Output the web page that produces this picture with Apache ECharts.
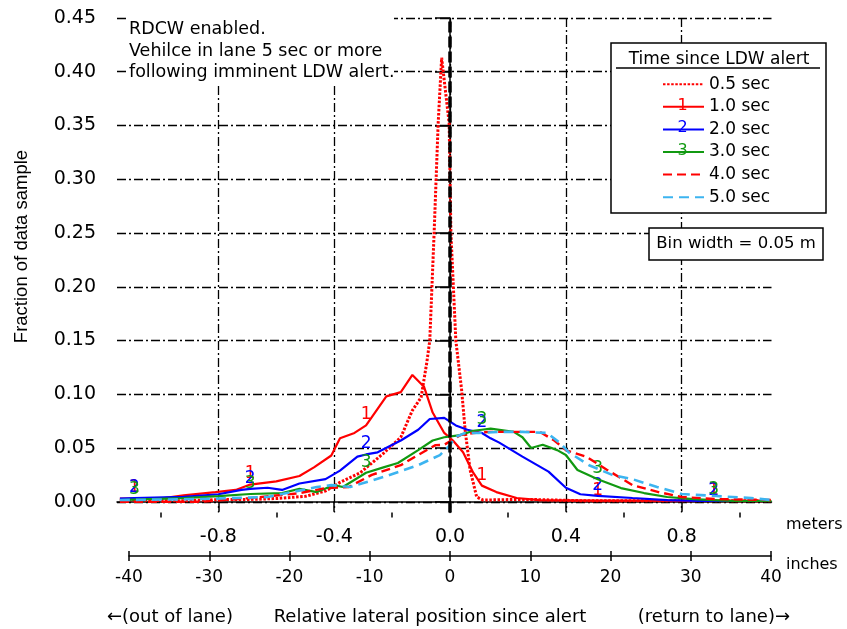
<!DOCTYPE html>
<html><head><meta charset="utf-8">
<script src="https://cdn.jsdelivr.net/npm/echarts@6/dist/echarts.min.js"></script>
<style>html,body{margin:0;padding:0;background:#fff}#c{width:847px;height:629px}</style>
</head><body><div id="c"></div>
<script>
// ---- data (x: relative lateral position in meters, y: fraction of data sample) ----
const seriesNames = ['0.5 sec', '1.0 sec', '2.0 sec', '3.0 sec', '4.0 sec', '5.0 sec'];
const markerText = ['', '1', '2', '3', '', ''];
const markerX = [-1.09, -0.69, -0.29, 0.11, 0.51, 0.91];

const s05 = [[-1.14,0.002],[-1.0,0.001],[-0.9,0.001],[-0.8,0.002],[-0.7,0.002],[-0.6,0.003],[-0.5,0.005],[-0.43,0.010],[-0.38,0.018],[-0.31,0.027],[-0.23,0.045],[-0.17,0.060],[-0.13,0.085],[-0.10,0.097],[-0.08,0.130],[-0.07,0.150],[-0.055,0.250],[-0.041,0.352],[-0.029,0.413],[-0.003,0.352],[0.003,0.250],[0.02,0.150],[0.04,0.104],[0.052,0.067],[0.069,0.030],[0.092,0.0044],[0.114,0.0016],[0.2,0.002],[0.3,0.002],[0.45,0.001],[0.6,0.001],[0.8,0.001],[1.0,0.001],[1.11,0.001]];
const s10 = [[-1.14,0.003],[-1.09,0.003],[-1.0,0.003],[-0.92,0.006],[-0.81,0.009],[-0.74,0.011],[-0.69,0.016],[-0.6,0.019],[-0.52,0.024],[-0.47,0.032],[-0.41,0.043],[-0.38,0.059],[-0.33,0.064],[-0.29,0.071],[-0.22,0.098],[-0.17,0.102],[-0.13,0.118],[-0.09,0.107],[-0.06,0.083],[-0.02,0.064],[0.01,0.057],[0.045,0.046],[0.08,0.027],[0.11,0.015],[0.16,0.009],[0.23,0.0035],[0.31,0.0016],[0.51,0.001],[0.7,0.001],[0.91,0.001],[1.1,0.001]];
const s20 = [[-1.14,0.003],[-1.09,0.0035],[-0.92,0.0045],[-0.8,0.007],[-0.72,0.011],[-0.69,0.012],[-0.63,0.013],[-0.58,0.011],[-0.52,0.017],[-0.43,0.021],[-0.38,0.029],[-0.32,0.042],[-0.29,0.044],[-0.25,0.046],[-0.17,0.057],[-0.11,0.067],[-0.07,0.077],[-0.02,0.078],[0.02,0.071],[0.06,0.067],[0.11,0.064],[0.14,0.059],[0.17,0.055],[0.25,0.042],[0.34,0.028],[0.40,0.013],[0.45,0.007],[0.51,0.0055],[0.63,0.0035],[0.75,0.0016],[0.86,0.0008],[0.91,0.0007],[1.1,0.0007]];
const s30 = [[-1.14,0.0015],[-1.09,0.002],[-0.92,0.0034],[-0.8,0.0053],[-0.69,0.0072],[-0.58,0.0081],[-0.52,0.012],[-0.46,0.009],[-0.4,0.0155],[-0.37,0.0137],[-0.29,0.027],[-0.23,0.032],[-0.18,0.036],[-0.11,0.048],[-0.06,0.057],[-0.02,0.060],[0.035,0.062],[0.08,0.066],[0.11,0.067],[0.14,0.068],[0.22,0.065],[0.25,0.060],[0.28,0.050],[0.32,0.053],[0.37,0.048],[0.40,0.0435],[0.44,0.0295],[0.51,0.021],[0.59,0.0127],[0.67,0.0081],[0.75,0.0044],[0.84,0.0025],[0.91,0.0015],[0.98,0.0007],[1.11,0.0007]];
const s40 = [[-1.14,0.0],[-0.86,0.0],[-0.69,0.0034],[-0.52,0.008],[-0.43,0.0127],[-0.35,0.0137],[-0.27,0.025],[-0.17,0.034],[-0.12,0.042],[-0.05,0.0527],[-0.02,0.053],[0.035,0.062],[0.08,0.064],[0.14,0.065],[0.23,0.065],[0.31,0.065],[0.36,0.057],[0.40,0.048],[0.47,0.042],[0.54,0.030],[0.59,0.022],[0.63,0.0155],[0.72,0.009],[0.80,0.0044],[0.92,0.0025],[1.11,0.0016]];
const s50 = [[-1.14,0.0016],[-0.86,0.0025],[-0.63,0.0044],[-0.46,0.0137],[-0.41,0.0155],[-0.345,0.0137],[-0.23,0.023],[-0.11,0.034],[-0.035,0.0434],[0.0,0.0527],[0.017,0.060],[0.052,0.064],[0.10,0.064],[0.17,0.065],[0.25,0.065],[0.335,0.064],[0.38,0.0546],[0.41,0.046],[0.48,0.034],[0.56,0.025],[0.63,0.021],[0.715,0.0137],[0.80,0.0072],[0.92,0.0053],[1.04,0.0034],[1.11,0.0016]];
const allSeries = [s05, s10, s20, s30, s40, s50];

const yTicks = [0, 0.05, 0.10, 0.15, 0.20, 0.25, 0.30, 0.35, 0.40, 0.45];
const meterTicks = [-0.8, -0.4, 0, 0.4, 0.8];
const meterMinorTicks = [-1.0, -0.6, -0.2, 0.2, 0.6, 1.0];
const inchMin = -40, inchMax = 40, inchStep = 10;
const xMin = -1.15, xMax = 1.11, yMin = -0.01, yMax = 0.45;

// ---- styles ----
const FONT = 'DejaVu Sans';
const colors = ['#ff0000', '#ff0000', '#0000ff', '#119911', '#ff0000', '#3cb4f0'];
const lineTypes = [[2.5, 1.6], 'solid', 'solid', 'solid', [9, 5], [10, 6]];
const lineWidths = [3, 2.2, 2.2, 2.2, 2.4, 2.6];
const gridDash = [9, 3, 2, 3];

const legendLeft = 662, legendTop = 75.7, legendItemH = 14, legendGap = 5.6, legendStep = 22.8, legendItemW = 41;

function buildData(arr, mark) {
  return arr.map(p => {
    if (mark && markerX.some(m => Math.abs(m - p[0]) < 1e-9)) {
      return { value: p, label: { show: true, formatter: mark } };
    }
    return { value: p };
  });
}

const series = allSeries.map((arr, i) => ({
  name: seriesNames[i],
  type: 'line',
  xAxisIndex: 0, yAxisIndex: 0,
  data: buildData(arr, markerText[i]),
  symbol: 'circle', symbolSize: 0.01, showSymbol: true,
  itemStyle: { color: colors[i] },
  lineStyle: { color: colors[i], width: lineWidths[i], type: lineTypes[i] },
  label: { show: false, position: 'top', distance: 2, color: colors[i], fontSize: 17, fontFamily: FONT },
  emphasis: { disabled: true },
  silent: true,
  z: 2 + i * 0.01
}));

// zero line (thick black dashed)
series.push({
  type: 'line', xAxisIndex: 0, yAxisIndex: 0, data: [], silent: true, z: 5,
  markLine: {
    silent: true, symbol: ['none', 'none'], animation: false,
    label: { show: false },
    lineStyle: { color: '#000', width: 3.5, type: [11, 4] },
    data: [{ xAxis: 0 }]
  }
});

const legendNumGraphics = [1, 2, 3].map(i => ({
  type: 'text', z: 50,
  x: legendLeft + legendItemW / 2, y: legendTop + i * legendStep + legendItemH / 2,
  style: { text: markerText[i], fill: colors[i], fontFamily: FONT, fontSize: 16, align: 'center', verticalAlign: 'middle' }
}));

const option = {
  animation: false,
  backgroundColor: '#fff',
  grid: [
    { left: 117, right: 75.5, top: 18, height: 494.5 },
    { left: 129, right: 76, top: 551, height: 5 }
  ],
  xAxis: [
    {
      gridIndex: 0, type: 'value', min: xMin, max: xMax, position: 'bottom',
      axisLine: { show: true, lineStyle: { color: '#000', width: 1.5 } },
      axisTick: { show: true, customValues: meterTicks, length: 10, lineStyle: { color: '#000', width: 1.5 } },
      axisLabel: { customValues: meterTicks, formatter: v => v.toFixed(1), margin: 15, color: '#000', fontSize: 19, fontFamily: FONT },
      splitLine: { show: true, lineStyle: { color: '#000', width: 1.3, type: gridDash } }
    },
    {
      gridIndex: 0, type: 'value', min: xMin, max: xMax, position: 'bottom',
      axisLine: { show: false },
      axisTick: { show: true, customValues: meterMinorTicks, length: 5, lineStyle: { color: '#000', width: 1.5 } },
      axisLabel: { show: false },
      splitLine: { show: false }
    },
    {
      gridIndex: 1, type: 'value', min: inchMin, max: inchMax, interval: inchStep, position: 'bottom',
      axisLine: { show: true, lineStyle: { color: '#000', width: 1.5 } },
      axisTick: { show: true, length: 5, lineStyle: { color: '#000', width: 1.5 } },
      axisLabel: { margin: 13, color: '#000', fontSize: 17, fontFamily: FONT },
      splitLine: { show: true, lineStyle: { color: '#000', width: 1.5, type: 'solid' } }
    }
  ],
  yAxis: [
    {
      gridIndex: 0, type: 'value', min: yMin, max: yMax,
      axisLine: { show: true, lineStyle: { color: '#000', width: 1.5 } },
      axisTick: { show: true, customValues: yTicks, length: 15, lineStyle: { color: '#000', width: 1.5 } },
      axisLabel: { customValues: yTicks, formatter: v => v.toFixed(2), margin: 21, color: '#000', fontSize: 19, fontFamily: FONT },
      splitLine: { show: true, lineStyle: { color: '#000', width: 1.3, type: gridDash } }
    },
    { gridIndex: 1, type: 'value', min: 0, max: 1, show: false }
  ],
  legend: {
    data: seriesNames, orient: 'vertical', left: legendLeft, top: legendTop, padding: 0,
    itemWidth: legendItemW, itemHeight: legendItemH, itemGap: legendGap,
    textStyle: { fontFamily: FONT, fontSize: 17, color: '#000', lineHeight: 14 },
    itemStyle: { opacity: 0 },
    selectedMode: false, z: 30
  },
  graphic: [
    // annotation box
    { type: 'rect', z: 10, shape: { x: 127, y: 15, width: 267, height: 69 }, style: { fill: '#fff' } },
    { type: 'text', z: 11, x: 129, y: 29.5, style: { text: 'RDCW enabled.', fill: '#000', fontFamily: FONT, fontSize: 17.5, verticalAlign: 'middle' } },
    { type: 'text', z: 11, x: 129, y: 51, style: { text: 'Vehilce in lane 5 sec or more', fill: '#000', fontFamily: FONT, fontSize: 17.5, verticalAlign: 'middle' } },
    { type: 'text', z: 11, x: 129, y: 72, style: { text: 'following imminent LDW alert.', fill: '#000', fontFamily: FONT, fontSize: 17.5, verticalAlign: 'middle' } },
    // legend frame
    { type: 'rect', z: 10, shape: { x: 611, y: 43, width: 215, height: 170 }, style: { fill: '#fff', stroke: '#000', lineWidth: 1.5 } },
    { type: 'text', z: 11, x: 719, y: 60, style: { text: 'Time since LDW alert', fill: '#000', fontFamily: FONT, fontSize: 17, align: 'center', verticalAlign: 'middle' } },
    { type: 'line', z: 11, shape: { x1: 616, y1: 68, x2: 820, y2: 68 }, style: { stroke: '#000', lineWidth: 1.5 } },
    // bin width box
    { type: 'rect', z: 10, shape: { x: 649, y: 228, width: 174, height: 32 }, style: { fill: '#fff', stroke: '#000', lineWidth: 1.5 } },
    { type: 'text', z: 11, x: 736, y: 244, style: { text: 'Bin width = 0.05 m', fill: '#000', fontFamily: FONT, fontSize: 16.5, align: 'center', verticalAlign: 'middle' } },
    // axis titles
    { type: 'text', z: 11, x: 22, y: 246.5, rotation: Math.PI / 2, style: { text: 'Fraction of data sample', fill: '#000', fontFamily: 'Liberation Sans', fontSize: 18.5, align: 'center', verticalAlign: 'middle' } },
    { type: 'text', z: 11, x: 786, y: 525, style: { text: 'meters', fill: '#000', fontFamily: FONT, fontSize: 16, verticalAlign: 'middle' } },
    { type: 'text', z: 11, x: 786, y: 565, style: { text: 'inches', fill: '#000', fontFamily: FONT, fontSize: 16, verticalAlign: 'middle' } },
    { type: 'text', z: 11, x: 107, y: 617, style: { text: '\u2190(out of lane)', fill: '#000', fontFamily: FONT, fontSize: 18, verticalAlign: 'middle' } },
    { type: 'text', z: 11, x: 430, y: 617, style: { text: 'Relative lateral position since alert', fill: '#000', fontFamily: FONT, fontSize: 18, align: 'center', verticalAlign: 'middle' } },
    { type: 'text', z: 11, x: 790, y: 617, style: { text: '(return to lane)\u2192', fill: '#000', fontFamily: FONT, fontSize: 18, align: 'right', verticalAlign: 'middle' } }
  ].concat(legendNumGraphics),
  series: series
};

const chart = echarts.init(document.getElementById('c'), null, { renderer: 'canvas' });
chart.setOption(option);
</script>
</body></html>
